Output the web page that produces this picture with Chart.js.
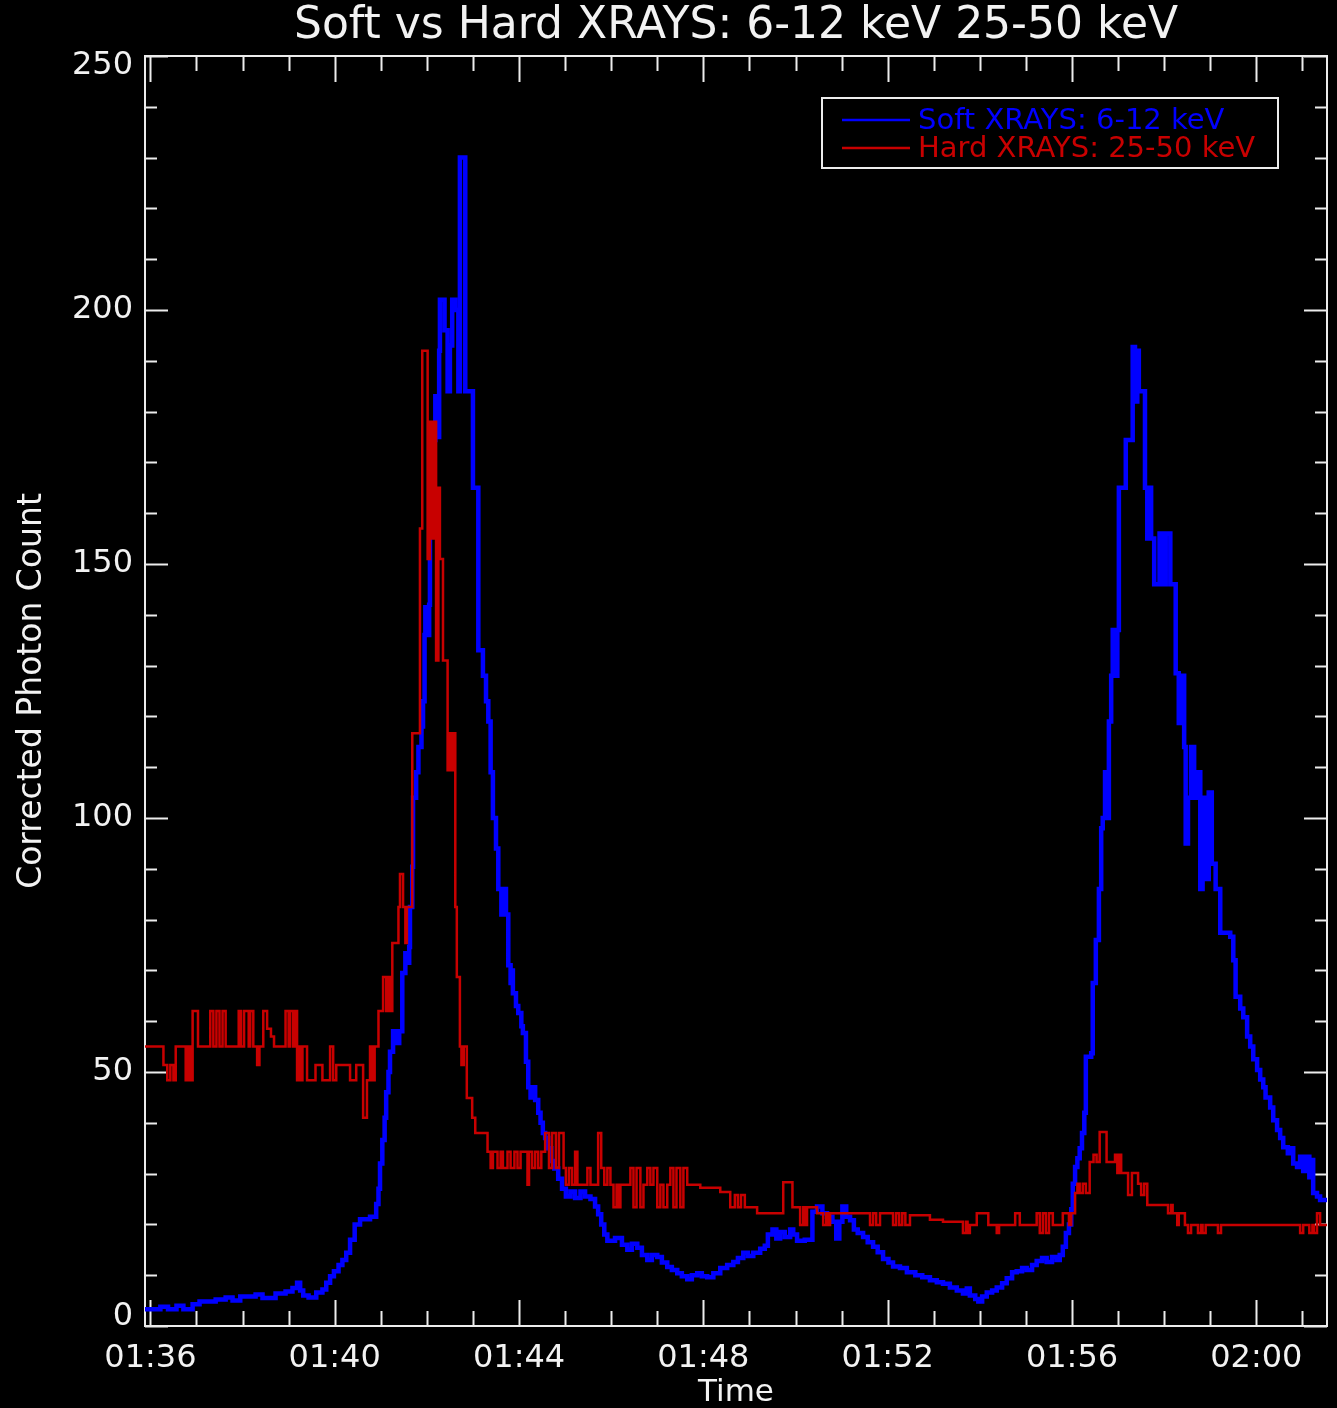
<!DOCTYPE html>
<html>
<head>
<meta charset="utf-8">
<script src="https://cdn.jsdelivr.net/npm/chart.js@4.4.1/dist/chart.umd.min.js"></script>
<style>
  html, body { margin: 0; padding: 0; background: #000; }
  #wrap { width: 1337px; height: 1408px; }
</style>
</head>
<body>
<div id="wrap"><canvas id="c" width="1337" height="1408"></canvas></div>
<script>
// ---------- text ----------
const chartTitle = 'Soft vs Hard XRAYS: 6-12 keV 25-50 keV';
const xAxisTitle = 'Time';
const yAxisTitle = 'Corrected Photon Count';
const seriesNames = ['Soft XRAYS: 6-12 keV', 'Hard XRAYS: 25-50 keV'];

// ---------- axes (x in seconds after 01:36:00) ----------
const xMinSec = -7, xMaxSec = 1532;
const xTickSeconds = [0, 240, 480, 720, 960, 1200, 1440];
const xTickLabels = ['01:36', '01:40', '01:44', '01:48', '01:52', '01:56', '02:00'];
const xMinorStep = 60;
const yMin = 0, yMax = 250;
const yTickValues = [0, 50, 100, 150, 200, 250];
const yMinorStep = 10;

// ---------- Soft XRAYS 6-12 keV ----------
const softTime = [
  -7,13,23,34,43,55,64,85,98,107,
  117,137,146,163,176,185,191,195,199,206,
  216,224,229,234,239,245,250,255,260,266,
  273,286,294,297,299,302,305,307,310,312,
  316,320,324,328,332,334,337,338,341,342,
  346,349,353,355,357,358,361,363,364,368,
  371,373,376,377,383,387,390,393,397,401,
  403,410,420,427,433,437,440,443,446,450,
  453,457,461,463,466,469,471,472,476,479,
  483,485,489,492,495,497,501,505,508,511,
  514,518,522,526,531,536,541,547,553,560,
  566,573,579,583,587,591,595,605,614,621,
  627,634,640,647,653,660,666,673,679,686,
  692,699,705,712,718,725,733,742,751,759,
  765,772,778,785,794,800,804,810,815,820,
  826,833,837,842,852,862,868,875,881,888,
  893,897,901,906,911,916,921,928,934,941,
  947,954,961,967,976,985,996,1005,1015,1024,
  1032,1041,1050,1058,1063,1067,1074,1078,1083,1089,
  1096,1102,1109,1115,1122,1128,1135,1141,1148,1154,
  1161,1167,1174,1180,1184,1188,1192,1196,1199,1201,
  1204,1207,1210,1213,1216,1218,1225,1227,1231,1235,
  1238,1240,1243,1246,1248,1251,1253,1256,1259,1261,
  1270,1279,1282,1285,1287,1295,1298,1300,1303,1307,
  1314,1318,1322,1328,1335,1339,1342,1346,1348,1351,
  1355,1359,1364,1367,1370,1374,1378,1382,1387,1393,
  1406,1410,1413,1419,1423,1428,1432,1436,1441,1445,
  1449,1452,1458,1462,1467,1471,1475,1481,1484,1488,
  1493,1497,1501,1505,1509,1511,1514,1519,1523,1532
];
const softCounts = [
  3.3,3.8,3.3,4.0,3.3,4.3,4.8,5.2,5.6,5.0,
  5.8,6.2,5.5,6.4,6.8,7.5,8.5,7.0,6.0,5.6,
  6.6,7.2,8.5,9.8,10.8,12.0,13.0,14.4,17.0,20.0,
  21.0,21.5,24.0,27,32,36.6,41,46,50,54,
  58,55.7,58,69.5,73.4,71.5,74.6,82.5,90.4,104,
  109,114,118,123,136,141.5,136,142,162.6,174.4,
  183,175,192,202,196,184,193,202,200,184,
  230,184,165,133,128,123,119,109,100,94,
  86,81,86,81,71,67.5,70,65.5,63,61.6,
  59,57.7,52,47,45,47,44.5,42,40,38,
  37,35,32.5,31,29,27,25.5,26.5,25.2,26.5,
  25.5,25,23.5,22,20,18,16.8,17.3,16,15,
  16.2,15.4,14,13,14,13.6,12.5,11.6,11,10.4,
  9.8,9.2,10,10.4,9.8,9.6,10.4,11.4,12,12.6,
  13.4,14.4,13.8,14.4,15.2,15.8,18,19,17.2,18.5,
  17.5,19,18,16.8,17,22.5,23.5,22.2,21.5,20.5,
  17.2,20.5,23.5,21.5,20.8,19,18.3,17.5,16.5,15.6,
  14.5,13.2,12.5,11.7,11.4,10.6,10,9.6,9,8.6,
  8.3,7.6,7.0,6.4,7.4,6.0,5.3,4.8,5.8,6.6,
  7.0,7.6,8.4,9.4,10.6,10.8,11.4,11.0,12.0,12.8,
  13.4,12.6,13.6,13.0,14,15.6,18.3,20,23,28,
  31.3,33,35,38,42,53,53.7,67.5,76,86,
  98,100,109,100,119,128,137,128,137,165,
  174.4,192.7,182,192,184,165,155,165,155,146,
  156,146,156,146,128.5,118.7,128,114,95,104,
  114,104,109,86,104,88,105,91,86,77.4,
  76.6,72,64.8,62.5,60.8,57,55,52.5,50.4,48.5,
  47,45,43,40.5,38.6,37,35.2,34,35,32,
  31.3,33.3,30.5,33.3,29.3,32.7,26.2,25.5,24.8,24.8
];

// ---------- Hard XRAYS 25-50 keV ----------
const hardTime = [
  -7,17,22,26,30,33,46,49,52,55,
  62,78,82,86,90,94,98,115,118,122,
  128,130,134,139,142,147,152,157,161,176,
  180,182,186,189,191,194,195,198,204,215,
  224,234,238,242,260,268,277,282,286,289,
  292,297,303,307,310,312,315,323,325,329,
  332,334,341,351,354,361,364,367,370,372,
  375,377,381,387,390,393,395,397,399,403,
  405,408,412,419,423,439,443,446,452,456,
  459,465,469,474,478,482,491,493,497,501,
  505,509,514,519,523,528,532,538,541,545,
  549,553,556,569,573,583,587,591,595,599,
  603,607,609,612,625,629,633,638,642,647,
  651,655,660,664,668,673,677,681,685,690,
  694,699,716,742,755,761,765,769,774,790,
  824,836,846,850,852,855,868,876,880,882,
  885,937,941,945,950,967,971,975,979,983,
  989,1015,1032,1058,1062,1064,1067,1076,1091,1102,
  1105,1126,1132,1154,1158,1162,1166,1170,1175,1188,
  1196,1199,1204,1207,1210,1214,1218,1223,1228,1232,
  1236,1245,1256,1259,1261,1264,1273,1278,1286,1290,
  1294,1298,1325,1329,1331,1337,1339,1347,1351,1355,
  1364,1368,1370,1374,1390,1394,1497,1501,1509,1513,
  1515,1519,1523,1532
];
const hardCounts = [
  55,51.4,48.4,51.4,48.4,55,48.4,55,48.4,62,
  55,62,55,62,55,62,55,62,55,62,
  55,62,55,51.4,55,62,58.5,57,55,62,
  55,62,55,62,48.4,55,48.4,55,48.4,51.4,
  48.4,55,48.4,51.4,48.4,51.4,41,48.4,55,48.4,
  55,62,68.7,62,68.7,62,75.4,82.5,89,82.5,
  75.4,82.5,116.7,157,192,151,178,155,178,131,
  165,151,131,109.4,116.7,109.4,116.7,82.5,68.7,55,
  51.4,55,44.9,41,38,34.3,31.1,34.3,31.1,34.3,
  31.1,34.3,31.1,34.3,31.1,34.3,27.8,34.3,31.1,34.3,
  31.1,34.3,38,31.1,38,31.1,38,31.1,27.8,31.1,
  27.8,34.3,27.8,31.1,27.8,38,31.1,27.8,31.1,27.8,
  23.4,27.8,23.4,27.8,31.1,23.4,31.1,23.4,27.8,31.1,
  27.8,31.1,23.4,27.8,23.4,27.8,31.1,23.4,31.1,23.4,
  31.1,27.8,27.2,26.4,23.4,25.8,23.4,25.8,23.4,22.2,
  28.3,23.4,19.9,23.4,19.9,23.4,22.2,19.9,22.2,19.9,
  22.2,19.9,22.2,19.9,22.2,19.9,22.2,19.9,22.2,19.9,
  21.8,20.9,20.5,18.3,20.5,18.3,19.9,22.2,19.9,18.3,
  19.9,22.2,19.9,22.2,18.3,22.2,18.3,22.2,19.9,22.2,
  19.9,22.2,26.2,28,26.2,28,26.2,32.3,33.7,32.3,
  38.2,32.3,33.7,30.1,33.7,30.1,25.8,30.1,28,25.8,
  28,23.8,22.2,23.8,22.2,19.9,22.2,19.9,18.3,19.9,
  18.3,19.9,18.3,19.9,18.3,19.9,18.3,19.9,18.3,19.9,
  18.3,22.2,19.9,19.9
];

// ---------- style ----------
const FONT = "'DejaVu Sans ExtraLight', 'DejaVu Sans', sans-serif";
const axisColor = '#ececec';
const textColor = '#f2f2f2';
const softColor = '#0000ff';
const hardColor = '#c80000';

function toPoints(times, values) {
  return times.map((t, i) => ({ x: t, y: values[i] }));
}

const framePlugin = {
  id: 'idlFrame',
  beforeDatasetsDraw(chart) {
    const { ctx, chartArea: a, scales: { x, y } } = chart;
    ctx.save();
    ctx.strokeStyle = axisColor;
    ctx.lineWidth = 2;
    ctx.beginPath();
    for (let s = 0; s <= xMaxSec; s += xMinorStep) {
      const px = Math.round(x.getPixelForValue(s)) + 0.5;
      const len = (s % 240 === 0) ? 26 : 15;
      ctx.moveTo(px, a.bottom); ctx.lineTo(px, a.bottom - len);
      ctx.moveTo(px, a.top); ctx.lineTo(px, a.top + len);
    }
    for (let v = yMin; v <= yMax; v += yMinorStep) {
      const py = Math.round(y.getPixelForValue(v)) + 0.5;
      const len = (v % 50 === 0) ? 23 : 12;
      ctx.moveTo(a.left, py); ctx.lineTo(a.left + len, py);
      ctx.moveTo(a.right, py); ctx.lineTo(a.right - len, py);
    }
    ctx.stroke();
    ctx.strokeRect(a.left, a.top, a.right - a.left, a.bottom - a.top);
    // y tick labels (IDL keeps the end labels inside the axis span)
    ctx.fillStyle = textColor;
    ctx.font = '32px ' + FONT;
    ctx.textAlign = 'right';
    ctx.textBaseline = 'middle';
    yTickValues.forEach(v => {
      let py = y.getPixelForValue(v);
      py = Math.min(Math.max(py, a.top + 10), a.bottom - 9);
      ctx.fillText(String(v), a.left - 12, py);
    });
    ctx.restore();
  },
  afterDraw(chart) {
    const { ctx, chartArea: a } = chart;
    const bx = a.right - 505, by = a.top + 42, bw = 456, bh = 70;
    ctx.save();
    ctx.strokeStyle = axisColor;
    ctx.lineWidth = 2;
    ctx.strokeRect(bx, by, bw, bh);
    const colors = [softColor, hardColor];
    ctx.font = '29px ' + FONT;
    ctx.textBaseline = 'middle';
    ctx.textAlign = 'left';
    seriesNames.forEach((name, i) => {
      const ly = by + 22 + i * 28;
      ctx.strokeStyle = colors[i];
      ctx.lineWidth = 2.5;
      ctx.beginPath();
      ctx.moveTo(bx + 20, ly); ctx.lineTo(bx + 88, ly);
      ctx.stroke();
      ctx.fillStyle = colors[i];
      ctx.fillText(name, bx + 96, ly + 1);
    });
    ctx.restore();
  }
};

new Chart(document.getElementById('c'), {
  type: 'line',
  data: {
    datasets: [
      {
        label: seriesNames[0],
        data: toPoints(softTime, softCounts),
        borderColor: softColor,
        borderWidth: 4.5,
        stepped: 'before',
        pointRadius: 0,
        fill: false,
        order: 1
      },
      {
        label: seriesNames[1],
        data: toPoints(hardTime, hardCounts),
        borderColor: hardColor,
        borderWidth: 2.5,
        stepped: 'before',
        pointRadius: 0,
        fill: false,
        order: 0
      }
    ]
  },
  options: {
    responsive: false,
    animation: false,
    devicePixelRatio: 1,
    layout: { padding: { left: 0, right: 10, top: 0, bottom: 0 } },
    plugins: {
      legend: { display: false },
      tooltip: { enabled: false },
      title: {
        display: true,
        text: chartTitle,
        color: textColor,
        fullSize: false,
        font: { family: FONT, size: 44, weight: 'normal', lineHeight: 1.1 },
        padding: { top: 2, bottom: 5.6 }
      }
    },
    scales: {
      x: {
        type: 'linear',
        min: xMinSec,
        max: xMaxSec,
        grid: { display: false, drawTicks: false },
        border: { display: false },
        afterBuildTicks: (scale) => { scale.ticks = xTickSeconds.map(v => ({ value: v })); },
        afterFit: (scale) => { scale.height = 82; },
        ticks: {
          color: textColor,
          font: { family: FONT, size: 32, lineHeight: 1.2 },
          padding: 13,
          maxRotation: 0,
          autoSkip: false,
          callback: (v) => { const i = xTickSeconds.indexOf(v); return i >= 0 ? xTickLabels[i] : ''; }
        },
        title: {
          display: true,
          text: xAxisTitle,
          color: textColor,
          font: { family: FONT, size: 31, lineHeight: 1.0 },
          padding: { top: 0, bottom: 0 }
        }
      },
      y: {
        min: yMin,
        max: yMax,
        grid: { display: false, drawTicks: false },
        border: { display: false },
        afterBuildTicks: (scale) => { scale.ticks = yTickValues.map(v => ({ value: v })); },
        afterFit: (scale) => { scale.width = 145; },
        ticks: { display: false },
        title: {
          display: true,
          text: yAxisTitle,
          color: textColor,
          font: { family: FONT, size: 33, lineHeight: 1.2 },
          padding: { top: 13, bottom: 0 }
        }
      }
    }
  },
  plugins: [framePlugin]
});
</script>
</body>
</html>
